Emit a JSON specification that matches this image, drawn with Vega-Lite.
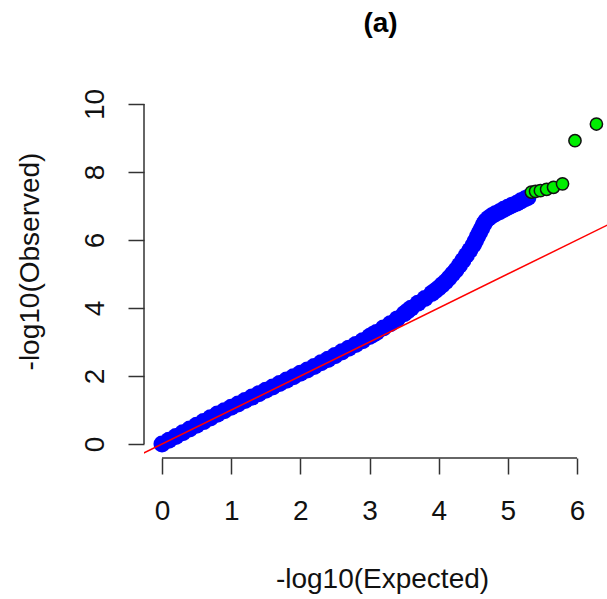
{
  "$schema": "https://vega.github.io/schema/vega-lite/v6.json",
  "autosize": "none",
  "width": 463,
  "height": 368,
  "padding": {"left": 144, "top": 90, "right": 0, "bottom": 141},
  "background": "white",
  "config": {"view": {"stroke": null}, "font": "Liberation Sans", "axis": {"grid": false}},
  "title": {"text": "(a)", "fontSize": 28, "fontWeight": "bold", "font": "Liberation Sans", "color": "#000", "anchor": "middle", "offset": 50, "dx": 5},
  "datasets": {
    "blue": [
      {"x": 0, "y": 0}, {"x": 0.1, "y": 0.11}, {"x": 0.2, "y": 0.22}, {"x": 0.3, "y": 0.33}, {"x": 0.4, "y": 0.44},
      {"x": 0.5, "y": 0.55}, {"x": 0.6, "y": 0.66}, {"x": 0.7, "y": 0.77}, {"x": 0.8, "y": 0.88}, {"x": 0.9, "y": 0.98},
      {"x": 1.0, "y": 1.08}, {"x": 1.1, "y": 1.18}, {"x": 1.2, "y": 1.28}, {"x": 1.3, "y": 1.38}, {"x": 1.4, "y": 1.48},
      {"x": 1.5, "y": 1.58}, {"x": 1.6, "y": 1.68}, {"x": 1.7, "y": 1.78}, {"x": 1.8, "y": 1.88}, {"x": 1.9, "y": 1.98},
      {"x": 2.0, "y": 2.08}, {"x": 2.1, "y": 2.18}, {"x": 2.2, "y": 2.28}, {"x": 2.3, "y": 2.39}, {"x": 2.4, "y": 2.49},
      {"x": 2.5, "y": 2.6}, {"x": 2.6, "y": 2.71}, {"x": 2.7, "y": 2.82}, {"x": 2.8, "y": 2.93}, {"x": 2.9, "y": 3.04},
      {"x": 3.0, "y": 3.16}, {"x": 3.05, "y": 3.22}, {"x": 3.1, "y": 3.28}, {"x": 3.2, "y": 3.41}, {"x": 3.3, "y": 3.54},
      {"x": 3.4, "y": 3.68}, {"x": 3.5, "y": 3.83}, {"x": 3.55, "y": 3.91}, {"x": 3.6, "y": 3.99}, {"x": 3.7, "y": 4.14},
      {"x": 3.8, "y": 4.28}, {"x": 3.9, "y": 4.43}, {"x": 3.95, "y": 4.51}, {"x": 4.0, "y": 4.59}, {"x": 4.05, "y": 4.68},
      {"x": 4.1, "y": 4.77}, {"x": 4.15, "y": 4.88}, {"x": 4.2, "y": 5.0}, {"x": 4.25, "y": 5.12}, {"x": 4.3, "y": 5.26},
      {"x": 4.35, "y": 5.4}, {"x": 4.4, "y": 5.55}, {"x": 4.45, "y": 5.7}, {"x": 4.5, "y": 5.85}, {"x": 4.53, "y": 5.97},
      {"x": 4.56, "y": 6.1}, {"x": 4.59, "y": 6.22}, {"x": 4.62, "y": 6.34}, {"x": 4.65, "y": 6.46}, {"x": 4.68, "y": 6.56},
      {"x": 4.72, "y": 6.64}, {"x": 4.77, "y": 6.71}, {"x": 4.82, "y": 6.77}, {"x": 4.88, "y": 6.83}, {"x": 4.94, "y": 6.9},
      {"x": 5.0, "y": 6.96}, {"x": 5.06, "y": 7.02}, {"x": 5.13, "y": 7.08}, {"x": 5.19, "y": 7.15}, {"x": 5.25, "y": 7.21},
      {"x": 5.29, "y": 7.25}
    ],
    "green": [
      {"x": 5.34, "y": 7.41}, {"x": 5.4, "y": 7.43}, {"x": 5.47, "y": 7.45}, {"x": 5.56, "y": 7.49},
      {"x": 5.66, "y": 7.55}, {"x": 5.79, "y": 7.65}, {"x": 5.97, "y": 8.92}, {"x": 6.28, "y": 9.41}
    ],
    "diag": [{"x": -1, "y": -1}, {"x": 8, "y": 8}],
    "xaxisline": [{"x": 0, "x2": 6, "y": -0.41}],
    "yaxisline": [{"x": -0.26, "y": 0, "y2": 10}]
  },
  "layer": [
    {
      "data": {"name": "blue"},
      "mark": {"type": "circle", "size": 290, "color": "#0000FF", "opacity": 1},
      "encoding": {
        "x": {
          "field": "x", "type": "quantitative", "title": "-log10(Expected)",
          "scale": {"domain": [-0.26, 6.433], "nice": false, "zero": false},
          "axis": {
            "values": [0, 1, 2, 3, 4, 5, 6], "format": "d", "grid": false, "domain": false,
            "tickSize": 16, "tickWidth": 1.5, "tickColor": "#333",
            "labelFontSize": 28, "labelColor": "#111", "labelPadding": 23, "labelFont": "Liberation Sans",
            "labelFlush": false, "labelOverlap": false,
            "title": "-log10(Expected)", "titleFontSize": 28, "titleFontWeight": "normal", "titleColor": "#111",
            "titleFont": "Liberation Sans", "titleX": 238, "titleY": 129, "titleBaseline": "alphabetic", "titleAlign": "center"
          }
        },
        "y": {
          "field": "y", "type": "quantitative", "title": "-log10(Observed)",
          "scale": {"domain": [-0.41, 10.41], "nice": false, "zero": false},
          "axis": {
            "values": [0, 2, 4, 6, 8, 10], "format": "d", "grid": false, "domain": false,
            "tickSize": 16, "tickWidth": 1.5, "tickColor": "#333",
            "labelFontSize": 28, "labelColor": "#111", "labelPadding": 25, "labelFont": "Liberation Sans",
            "labelAngle": 270, "labelAlign": "center", "labelBaseline": "alphabetic",
            "labelFlush": false, "labelOverlap": false,
            "title": "-log10(Observed)", "titleFontSize": 28, "titleFontWeight": "normal", "titleColor": "#111",
            "titleFont": "Liberation Sans", "titleAngle": 270, "titleX": -106, "titleY": 171,
            "titleBaseline": "alphabetic", "titleAlign": "center"
          }
        }
      }
    },
    {
      "data": {"name": "xaxisline"},
      "mark": {"type": "rule", "color": "#333333", "strokeWidth": 1.5},
      "encoding": {
        "x": {"field": "x", "type": "quantitative", "title": "-log10(Expected)", "scale": {"domain": [-0.26, 6.433], "nice": false, "zero": false}},
        "x2": {"field": "x2"},
        "y": {"field": "y", "type": "quantitative", "title": "-log10(Observed)", "scale": {"domain": [-0.41, 10.41], "nice": false, "zero": false}}
      }
    },
    {
      "data": {"name": "yaxisline"},
      "mark": {"type": "rule", "color": "#333333", "strokeWidth": 1.5},
      "encoding": {
        "x": {"field": "x", "type": "quantitative", "title": "-log10(Expected)", "scale": {"domain": [-0.26, 6.433], "nice": false, "zero": false}},
        "y": {"field": "y", "type": "quantitative", "title": "-log10(Observed)", "scale": {"domain": [-0.41, 10.41], "nice": false, "zero": false}},
        "y2": {"field": "y2"}
      }
    },
    {
      "data": {"name": "diag"},
      "mark": {"type": "line", "color": "#FF0000", "strokeWidth": 1.5, "clip": true},
      "encoding": {
        "x": {"field": "x", "type": "quantitative", "title": "-log10(Expected)", "scale": {"domain": [-0.26, 6.433], "nice": false, "zero": false}},
        "y": {"field": "y", "type": "quantitative", "title": "-log10(Observed)", "scale": {"domain": [-0.41, 10.41], "nice": false, "zero": false}}
      }
    },
    {
      "data": {"name": "green"},
      "mark": {"type": "point", "shape": "circle", "filled": true, "size": 150, "fill": "#00EE00", "stroke": "#111", "strokeWidth": 1.5, "opacity": 1},
      "encoding": {
        "x": {"field": "x", "type": "quantitative", "title": "-log10(Expected)", "scale": {"domain": [-0.26, 6.433], "nice": false, "zero": false}},
        "y": {"field": "y", "type": "quantitative", "title": "-log10(Observed)", "scale": {"domain": [-0.41, 10.41], "nice": false, "zero": false}}
      }
    }
  ]
}
